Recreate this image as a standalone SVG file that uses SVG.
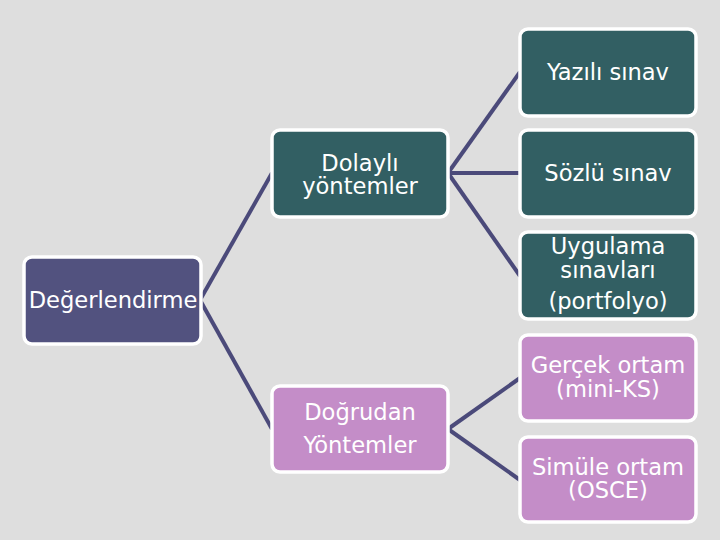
<svg xmlns="http://www.w3.org/2000/svg" width="720" height="540" viewBox="0 0 720 540">
<style>
.box{stroke:#ffffff;stroke-width:3.5}
.root{fill:#52527f}
.teal{fill:#325f63}
.pink{fill:#c48dc8}
.t{font-family:"DejaVu Sans",Verdana,sans-serif;font-size:22.6px;fill:#ffffff;text-anchor:middle}
.c{stroke:#4b4a7a;stroke-width:4;fill:none}
</style>
<rect width="720" height="540" fill="#dedede"/>
<g id="connectors">
<line class="c" x1="200" y1="300" x2="272" y2="173"/>
<line class="c" x1="200" y1="300" x2="272" y2="429"/>
<line class="c" x1="448" y1="173" x2="520" y2="72"/>
<line class="c" x1="448" y1="173" x2="520" y2="173"/>
<line class="c" x1="448" y1="173" x2="520" y2="276"/>
<line class="c" x1="448" y1="429" x2="520" y2="378"/>
<line class="c" x1="448" y1="429" x2="520" y2="480"/>
</g>
<g id="degerlendirme">
<rect class="box root" x="24" y="257" width="177" height="87" rx="8"/>
<text class="t" x="113" y="308">Değerlendirme</text>
</g>
<g id="dolayli">
<rect class="box teal" x="272" y="130" width="176" height="87" rx="8"/>
<text class="t" x="360" y="171">Dolaylı</text>
<text class="t" x="360" y="194">yöntemler</text>
</g>
<g id="dogrudan">
<rect class="box pink" x="272" y="386" width="176" height="86" rx="8"/>
<text class="t" x="360" y="420">Doğrudan</text>
<text class="t" x="360" y="453">Yöntemler</text>
</g>
<g id="yazili">
<rect class="box teal" x="520" y="29" width="176" height="87" rx="8"/>
<text class="t" x="608" y="80">Yazılı sınav</text>
</g>
<g id="sozlu">
<rect class="box teal" x="520" y="130" width="176" height="87" rx="8"/>
<text class="t" x="608" y="181">Sözlü sınav</text>
</g>
<g id="uygulama">
<rect class="box teal" x="520" y="232" width="176" height="87" rx="8"/>
<text class="t" x="608" y="254">Uygulama</text>
<text class="t" x="608" y="278">sınavları</text>
<text class="t" x="608" y="309">(portfolyo)</text>
</g>
<g id="gercek">
<rect class="box pink" x="520" y="335" width="176" height="86" rx="8"/>
<text class="t" x="608" y="373">Gerçek ortam</text>
<text class="t" x="608" y="397">(mini-KS)</text>
</g>
<g id="simule">
<rect class="box pink" x="520" y="437" width="176" height="85" rx="8"/>
<text class="t" x="608" y="475">Simüle ortam</text>
<text class="t" x="608" y="498">(OSCE)</text>
</g>
</svg>
